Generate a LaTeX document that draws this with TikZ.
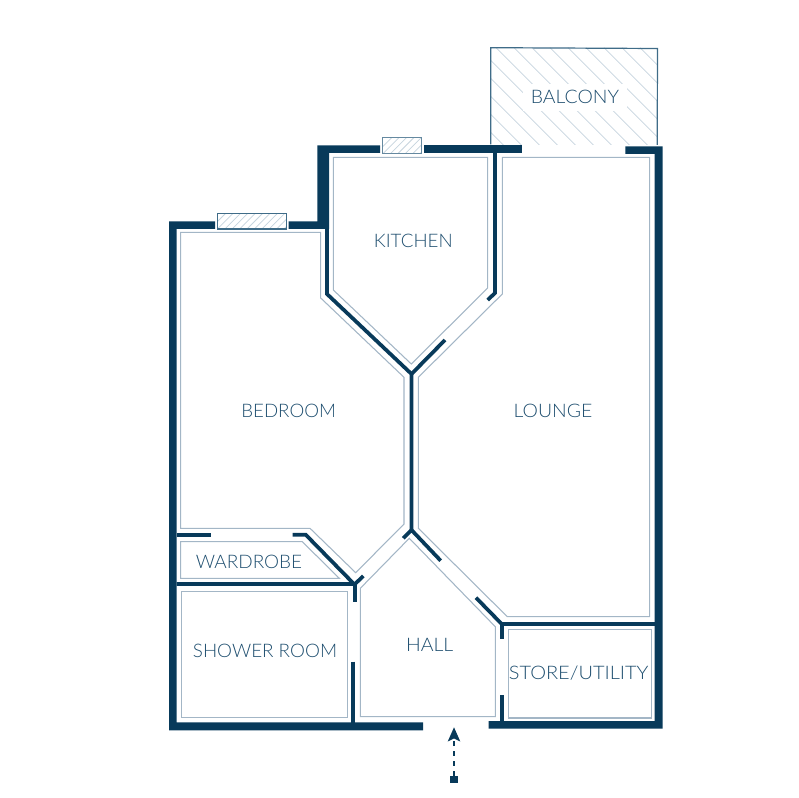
\documentclass[tikz,border=0pt]{standalone}
\usepackage{fontspec}
\setmainfont{Lato Light}
\definecolor{wallc}{HTML}{083A5A}
\definecolor{innerc}{HTML}{A3B6C6}
\definecolor{hatchc}{HTML}{C6D4DE}
\definecolor{framec}{HTML}{3F6C88}
\definecolor{textc}{HTML}{1D4D6E}
\tikzset{
  wallfill/.style={fill=wallc,draw=none},
  thinwall/.style={draw=wallc,line width=2.8pt,miter limit=10},
  innerline/.style={draw=innerc,line width=0.8pt,line join=miter},
  hatchline/.style={draw=hatchc,line width=0.55pt},
  framed/.style={draw=framec,line width=0.9pt},
  room/.style={text=textc,font=\fontsize{14pt}{15pt}\selectfont,inner sep=0pt,anchor=center},
}
\begin{document}
\begin{tikzpicture}[x=0.75pt,y=-0.75pt]
\useasboundingbox (0,0) rectangle (799,798);
% balcony
\begin{scope}
  \clip (490.7,47.7) rectangle (657.3,144.5);
  \foreach \k in {-6,...,8}{
    \draw[hatchline] ({496+18*\k},47.7) -- ({696+18*\k},247.7);
  }
\end{scope}
\fill[white] (523,84) rectangle (627,111);
\draw[framed] (490.7,144.5) -- (490.7,47.7) -- (657.5,48.5) -- (657.2,145);
% windows
\draw[framed,fill=white,draw=none] (382.3,137.3) rectangle (421.3,153.3);
\begin{scope}
  \clip (382.3,137.3) rectangle (421.3,153.3);
  \foreach \k in {0,...,8}{
    \draw[hatchline] ({376+7.4*\k},153.3) -- ({392+7.4*\k},137.3);
  }
\end{scope}
\draw[draw=framec!80,line width=0.8pt] (382.3,137.3) rectangle (421.3,153.3);
\draw[draw=none,fill=white] (217.3,213.3) rectangle (286.7,229);
\begin{scope}
  \clip (217.3,213.3) rectangle (286.7,229);
  \foreach \k in {0,...,11}{
    \draw[hatchline] ({210+7.4*\k},229) -- ({226+7.4*\k},213);
  }
\end{scope}
\draw[framed] (217.3,213.3) rectangle (286.7,229);
% inner outlines
\draw[innerline] (333.3,157.3) -- (487.7,157.3) -- (487.7,288) -- (411.3,364) -- (333.3,290) -- cycle;
\draw[innerline] (180.7,232.3) -- (320.7,232.3) -- (320.7,298) -- (404,377.3) -- (404,524) -- (355.7,572.7) -- (310,528.3) -- (180.7,528.3) -- cycle;
\draw[innerline] (180.7,541.7) -- (302.3,541.7) -- (339.3,578.3) -- (180.7,578.3) -- cycle;
\draw[innerline] (181.7,591.7) rectangle (347.7,717.7);
\draw[innerline] (360.3,588.3) -- (360.3,716.7) -- (495.3,716.7) -- (495.3,626.7) -- (409.3,538.3) -- cycle;
\draw[innerline] (508.3,629.3) rectangle (651.7,718);
\draw[innerline] (502.3,157.3) -- (649.7,157.3) -- (649.7,616.7) -- (507.3,616.7) -- (418.3,528.3) -- (418.3,377.3) -- (502.3,294) -- cycle;
% heavy walls
\fill[wallfill] (215,221.3) -- (169,221.3) -- (169,730.3) -- (423,730.3) -- (423,722.3) -- (176.7,722.3) -- (176.7,229) -- (215,229) -- cycle;
\fill[wallfill] (288.7,221.3) -- (317.3,221.3) -- (317.3,145.3) -- (380,145.3) -- (380,153) -- (329,153) -- (329,229) -- (288.7,229) -- cycle;
\fill[wallfill] (423.7,145.3) rectangle (522.3,153);
\fill[wallfill] (625.3,146.3) -- (662.5,146.3) -- (662.5,728.7) -- (488.7,728.7) -- (488.7,721) -- (654.7,721) -- (654.5,154) -- (625.3,154) -- cycle;
% thin walls
\draw[thinwall] (327,225) -- (327,294) -- (411.5,374) -- (411.5,530);
\draw[thinwall] (411.5,374) -- (445,340);
\draw[thinwall] (495,150) -- (495,293) -- (487.7,300);
\draw[thinwall] (403.3,538.3) -- (411.5,530) -- (440.7,560.7);
\draw[thinwall] (176.7,584) -- (355,584) -- (363.3,576);
\draw[thinwall] (355,584) -- (355,602);
\draw[thinwall] (292.7,534.7) -- (305.7,534.7) -- (354,584);
\draw[thinwall] (176.7,534.7) -- (211,534.7);
\draw[thinwall] (353.3,661.7) -- (353.3,723);
\draw[thinwall] (476,597.7) -- (501.7,624) -- (655,624);
\draw[thinwall] (502.2,624) -- (502.2,639.3);
\draw[thinwall] (502,695.3) -- (502,722);
% labels
\node[room] (balcony) at (575,97.2) {\scalebox{1.04}[1]{BALCONY}};
\node[room] (kitchen) at (413.3,240.8) {\scalebox{1.005}[1]{KITCHEN}};
\node[room] (bedroom) at (288.7,410.5) {\scalebox{1.0}[1]{BEDROOM}};
\node[room] (lounge) at (553,410.5) {\scalebox{1.04}[1]{LOUNGE}};
\node[room] (wardrobe) at (249,561.5) {\scalebox{1.015}[1]{WARDROBE}};
\node[room] (shower) at (265,650.5) {\scalebox{1.01}[1]{SHOWER ROOM}};
\node[room] (hall) at (429.7,644.8) {\scalebox{1.045}[1]{HALL}};
\node[room] (store) at (578.7,673.5) {\scalebox{1.07}[1]{STORE/UTILITY}};
% entrance arrow
\node[fill=wallc,minimum size=5.4pt,inner sep=0pt] (entry) at (454,779.5) {};
\coordinate (entrytip) at (454,727.3);
\draw[draw=wallc,line width=1pt,dash pattern=on 3.7pt off 3.7pt] (entry.north) -- (454,741);
\fill[wallc] (entrytip) -- (460.3,741.5) -- (454,738.5) -- (447.7,741.5) -- cycle;
\end{tikzpicture}
\end{document}
